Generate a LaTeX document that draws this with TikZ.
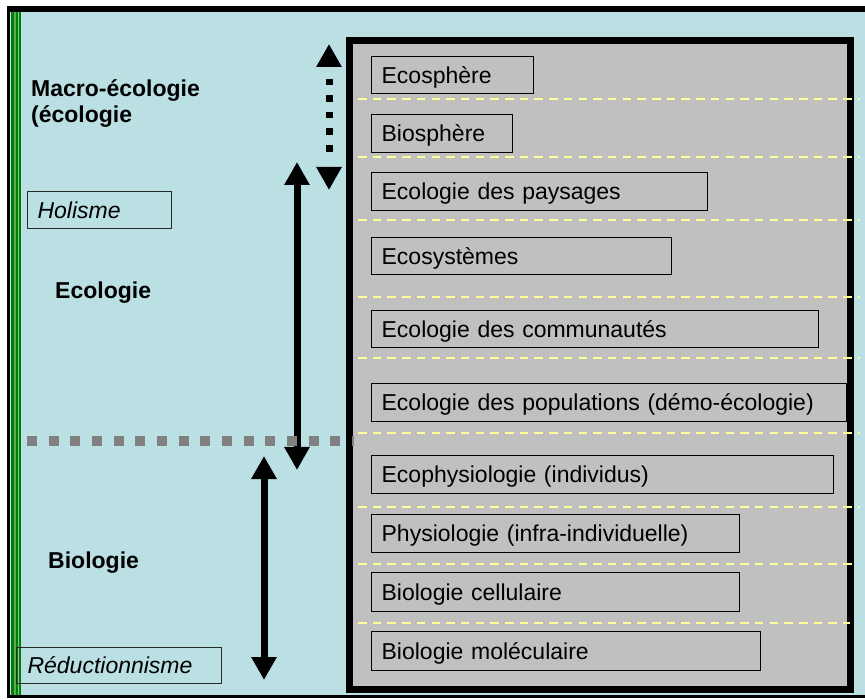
\documentclass[tikz,border=0pt]{standalone}
\usepackage{fontspec}
\setmainfont{Liberation Sans}
\usetikzlibrary{arrows.meta}
\definecolor{bgblue}{RGB}{186,224,228}
\definecolor{boxgray}{RGB}{192,192,192}
\definecolor{dgreen}{RGB}{0,128,0}
\definecolor{lgreen}{RGB}{90,170,90}
\definecolor{sepyellow}{RGB}{255,255,153}
\definecolor{dashgray}{RGB}{128,128,128}
\definecolor{frameline}{RGB}{40,40,40}
\begin{document}
\begin{tikzpicture}[x=1pt,y=-1pt,
  every node/.style={font=\fontsize{23}{26}\selectfont},
  lvl/.style={draw=black, fill=boxgray, line width=1.3pt, anchor=north west,
    inner xsep=10pt, inner ysep=0pt, text height=16.5pt, text depth=0pt,
    minimum height=#1, align=left},
  tagbox/.style={draw=frameline, line width=1.1pt, anchor=north west,
    inner ysep=0pt, text height=16.5pt, text depth=0pt, minimum height=#1,
    align=left, font=\fontsize{23}{26}\selectfont\itshape},
  biglabel/.style={anchor=base west, inner sep=0pt, align=left,
    font=\fontsize{23}{26}\selectfont\bfseries},
  separator/.style={sepyellow, line width=1.3pt, dash pattern=on 8.5pt off 6.2pt},
  bigarrow/.style={line width=7pt, {Triangle[width=24pt,length=23pt]}-{Triangle[width=24pt,length=23pt]}},
  limitline/.style={dashgray, line width=10pt, dash pattern=on 10pt off 11.67pt}
]
\useasboundingbox (0,0) rectangle (865,700);
\fill[white] (0,0) rectangle (865,700);
% outer frame
\fill[bgblue] (7,6) rectangle (865,698);
\fill[black] (7,6) rectangle (865,12);
\fill[black] (7,6) rectangle (10,698);
\fill[black] (7,695) rectangle (865,698);
\fill[dgreen] (11,12) rectangle (21,695);
\fill[lgreen] (13.5,12) rectangle (15.5,695);
\fill[bgblue!50!lgreen] (18.2,12) rectangle (19.2,695);

% big frame of levels
\draw[line width=7pt, fill=boxgray] (349.5,41) rectangle (850.5,689);

% level boxes
\node[lvl=37pt, text width=142pt] (ecosphere) at (371,56) {Ecosphère};
\node[lvl=38pt, text width=121pt] (biosphere) at (371,114) {Biosphère};
\node[lvl=38pt, text width=316pt] (paysages) at (371,172) {Ecologie des paysages};
\node[lvl=37pt, text width=280pt] (ecosystemes) at (371,237) {Ecosystèmes};
\node[lvl=37pt, text width=427pt] (communautes) at (371,310) {Ecologie des communautés};
\node[lvl=38pt, text width=455pt] (populations) at (371,383) {Ecologie des populations (démo-écologie)};
\node[lvl=38pt, text width=442pt] (ecophysio) at (371,455) {Ecophysiologie (individus)};
\node[lvl=38pt, text width=348pt] (physio) at (371,514) {Physiologie (infra-individuelle)};
\node[lvl=39pt, text width=348pt] (cellulaire) at (371,572) {Biologie cellulaire};
\node[lvl=39pt, text width=369pt] (moleculaire) at (371,631) {Biologie moléculaire};

% yellow separators
\foreach \yy/\xe in {99/860,157/860,220/860,297/860,358/860,433/860,507/860,564/855,623/850}
  \draw[separator] (358,\yy) -- (\xe,\yy);

% left labels
\node[biglabel] (macro) at (31,123) {Macro-écologie\\(écologie};
\node[biglabel] (ecologie) at (55,299) {Ecologie};
\node[biglabel] (biologie) at (48,568) {Biologie};
\node[tagbox=37pt, inner xsep=10pt, text width=124pt] (holisme) at (27,191) {Holisme};
\node[tagbox=36pt, inner xsep=11pt, text width=183pt] (reduction) at (16,647) {Réductionnisme};

% arrows
\coordinate (macroTop) at (329,44);
\coordinate (macroBot) at (329,190);
\coordinate (ecoTop) at (297,162);
\coordinate (ecoBot) at (297,470);
\coordinate (bioTop) at (264,456);
\coordinate (bioBot) at (264,680);
\draw[bigarrow, dash pattern=on 0pt off 13pt on 6.7pt off 9.9pt on 6.7pt off 9.9pt on 6.7pt off 9.9pt on 6.7pt off 9.9pt on 6.7pt off 40pt] (macroTop) -- (macroBot);
\draw[bigarrow] (ecoTop) -- (ecoBot);
\draw[bigarrow] (bioTop) -- (bioBot);

% limit between ecology and biology
\coordinate (limA) at (27,441);
\coordinate (limB) at (354,441);
\draw[limitline] (limA) -- (limB);
\end{tikzpicture}
\end{document}
